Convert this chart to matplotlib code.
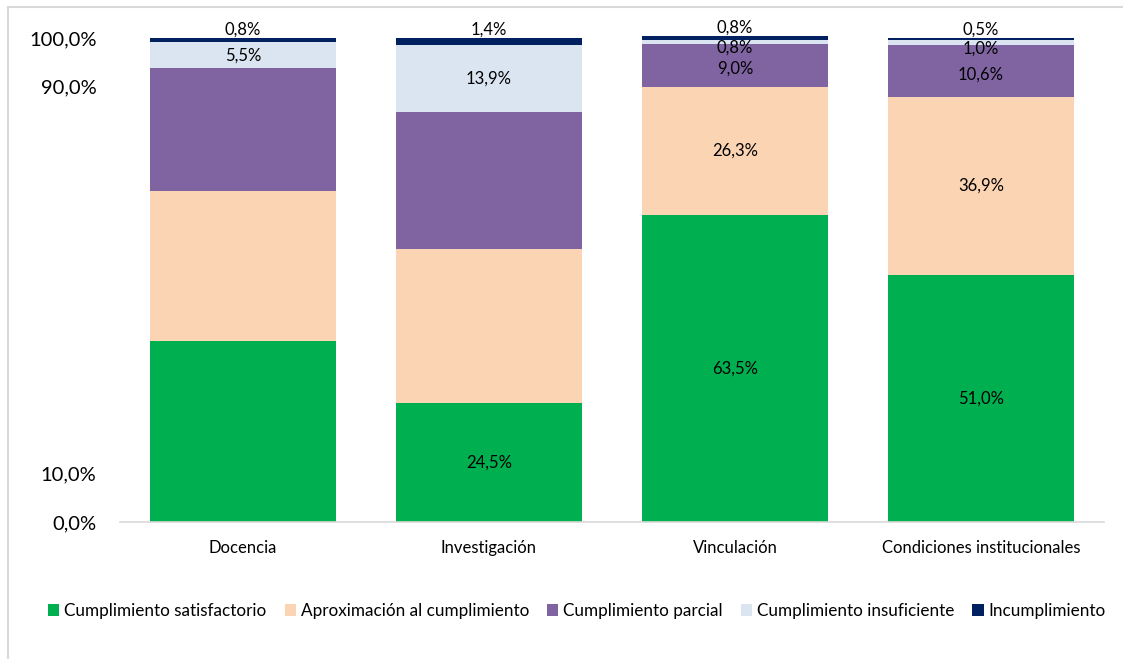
import matplotlib.pyplot as plt
from matplotlib.patches import Rectangle

# Data
categories = ['Docencia', 'Investigación', 'Vinculación', 'Condiciones institucionales']
series_names = ['Cumplimiento satisfactorio', 'Aproximación al cumplimiento',
                'Cumplimiento parcial', 'Cumplimiento insuficiente', 'Incumplimiento']
satisfactorio = [37.4, 24.5, 63.5, 51.0]
aproximacion = [31.0, 31.9, 26.3, 36.9]
parcial = [25.3, 28.3, 9.0, 10.6]
insuficiente = [5.5, 13.9, 0.8, 1.0]
incumplimiento = [0.8, 1.4, 0.8, 0.5]
# which bars show a label for each series
show_label = [
    [False, True, True, True],
    [False, False, True, True],
    [False, False, True, True],
    [True, True, True, True],
    [True, True, True, True],
]
colors = ['#00b050', '#fbd4b4', '#8064a2', '#dbe5f1', '#002060']

plt.rcParams['font.family'] = ['Lato', 'DejaVu Sans']

fig = plt.figure(figsize=(11.23, 6.59), dpi=100)
ax = fig.add_axes([120 / 1123, 1 - 522 / 659, (1104 - 120) / 1123, (522 - 38) / 659])

# outer frame of the chart area
fig.patches.append(Rectangle((8 / 1123, -0.1), 1.2, 1 - 7 / 659 + 0.1, transform=fig.transFigure,
                             fill=False, edgecolor='#d9d9d9', linewidth=1.5))

series = [satisfactorio, aproximacion, parcial, insuficiente, incumplimiento]
x = list(range(len(categories)))
bottoms = [0.0] * len(categories)
width = 0.76
for s, (vals, name, col) in enumerate(zip(series, series_names, colors)):
    ax.bar(x, vals, width, bottom=bottoms, color=col, label=name, clip_on=False, zorder=2)
    for i, v in enumerate(vals):
        if not show_label[s][i]:
            continue
        ypos = bottoms[i] + v / 2
        if s == 4:
            ypos = bottoms[i] + v + 1.8
        elif s == 3 and v < 3:
            ypos = bottoms[i] + v / 2 - 1.2
        elif s == 2 and v < 12:
            ypos = bottoms[i] + v / 2 - 0.7
        ax.text(i, ypos, f'{v:.1f}%'.replace('.', ','), ha='center', va='center',
                fontsize=12, color='#000000', zorder=3)
    bottoms = [b + v for b, v in zip(bottoms, vals)]

ax.set_xlim(-0.5, 3.5)
ax.set_ylim(0, 100)
yticks = [0, 10, 90, 100]
ax.set_yticks(yticks)
ax.set_yticklabels([f'{t:.1f}%'.replace('.', ',') for t in yticks], fontsize=14.5)
ax.set_xticks(x)
ax.set_xticklabels(categories, fontsize=12)
ax.tick_params(axis='both', length=0)
ax.tick_params(axis='x', pad=13)
ax.tick_params(axis='y', pad=17)
for side in ['top', 'right', 'left']:
    ax.spines[side].set_visible(False)
ax.spines['bottom'].set_color('#d9d9d9')
ax.spines['bottom'].set_linewidth(1.2)

handles, labels = ax.get_legend_handles_labels()
fig.legend(handles, labels, loc='center', bbox_to_anchor=(577 / 1123, 1 - 611 / 659), ncol=5,
           frameon=False, fontsize=12.3, handlelength=0.65, handleheight=0.65,
           handletextpad=0.3, columnspacing=1.05)

fig.savefig('out.png', dpi=100)
